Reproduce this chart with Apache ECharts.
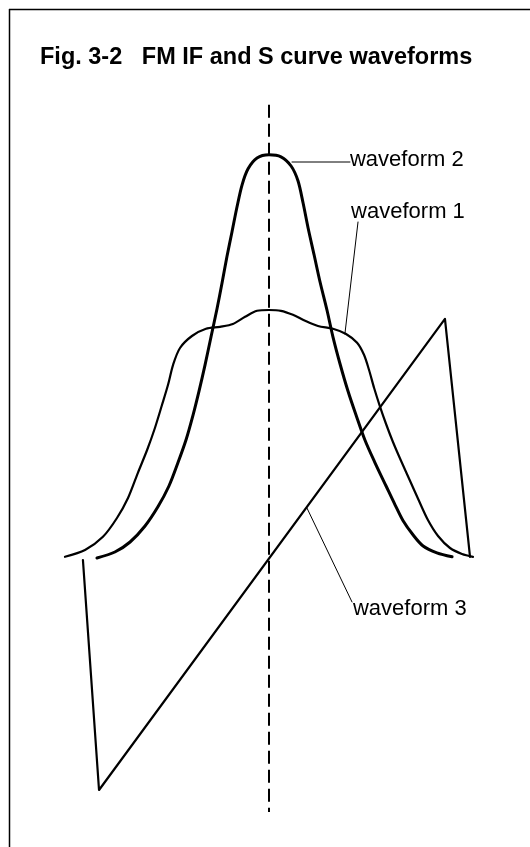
<!DOCTYPE html>
<html>
<head>
<meta charset="utf-8">
<script src="https://cdn.jsdelivr.net/npm/echarts@6/dist/echarts.min.js"></script>
<style>
  html, body { margin: 0; padding: 0; background: #fff; }
  #chart { width: 530px; height: 847px; }
</style>
</head>
<body>
<div id="chart"></div>
<script>
// curves in chart units: x = frequency offset, y = amplitude
const waveform1 = [
  [-8.87, 0.03], [-8.0, 0.2], [-7.22, 0.53], [-6.61, 1.0], [-6.13, 1.5],
  [-5.7, 2.13], [-5.3, 2.7], [-4.96, 3.25], [-4.65, 3.83], [-4.39, 4.33],
  [-4.17, 4.83], [-3.87, 5.25], [-3.35, 5.55], [-2.74, 5.73], [-2.13, 5.78],
  [-1.57, 5.85], [-1.04, 6.03], [-0.52, 6.18], [0, 6.2], [0.52, 6.18],
  [1.04, 6.08], [1.57, 5.93], [2.13, 5.8], [2.78, 5.73], [3.35, 5.6],
  [3.83, 5.38], [4.13, 5.08], [4.35, 4.7], [4.57, 4.25], [4.83, 3.78],
  [5.09, 3.35], [5.39, 2.9], [5.74, 2.43], [6.13, 1.93], [6.52, 1.43],
  [6.91, 0.95], [7.35, 0.55], [7.87, 0.25], [8.39, 0.1], [8.87, 0.03]
];
const waveform2 = [
  [-7.48, 0], [-6.7, 0.15], [-6.04, 0.4], [-5.39, 0.8], [-4.83, 1.28],
  [-4.35, 1.8], [-3.96, 2.38], [-3.61, 2.95], [-3.3, 3.58], [-3.04, 4.18],
  [-2.78, 4.83], [-2.52, 5.53], [-2.26, 6.23], [-2.04, 6.88], [-1.83, 7.53],
  [-1.61, 8.15], [-1.39, 8.78], [-1.17, 9.33], [-0.91, 9.73], [-0.52, 10.0],
  [0, 10.08], [0.52, 10.03], [0.96, 9.8], [1.26, 9.43], [1.48, 8.88],
  [1.7, 8.25], [1.96, 7.58], [2.22, 6.9], [2.52, 6.2], [2.78, 5.53],
  [3.09, 4.85], [3.43, 4.18], [3.78, 3.58], [4.17, 2.95], [4.61, 2.38],
  [5.09, 1.8], [5.48, 1.33], [5.83, 0.93], [6.26, 0.58], [6.7, 0.3],
  [7.3, 0.13], [7.96, 0.03]
];
const waveform3 = [[-8.09, -0.05], [-7.39, -5.8], [7.65, 5.98], [8.74, 0.03]];
const centerLine = [[0, 11.33], [0, -6.35]];

// leader lines and label anchors
const leader1 = [[3.3, 5.6], [3.87, 8.4]];
const leader2 = [[1.0, 9.9], [3.52, 9.9]];
const leader3 = [[1.65, 1.25], [3.61, -1.1]];
const labelNames = ['waveform 2', 'waveform 1', 'waveform 3'];
const labelPos = [[3.52, 9.95], [3.57, 8.65], [3.65, -1.28]];

const ink = '#000';
const chart = echarts.init(document.getElementById('chart'));

function curve(data, width, smooth) {
  return {
    type: 'line', data: data, smooth: smooth,
    symbol: 'none', silent: true,
    lineStyle: { color: ink, width: width, cap: 'round', join: 'round' }
  };
}

chart.setOption({
  animation: false,
  backgroundColor: '#fff',
  title: {
    text: 'Fig. 3-2   FM IF and S curve waveforms',
    left: 35, top: 41,
    textStyle: { fontFamily: 'Liberation Sans', fontWeight: 'bold', fontSize: 23.5, color: ink }
  },
  grid: { left: 39, right: 31, top: 98, bottom: 9 },
  xAxis: { type: 'value', min: -10, max: 10, show: false },
  yAxis: { type: 'value', min: -7, max: 11.5, show: false },
  graphic: [
    { type: 'line', shape: { x1: 9, y1: 9.5, x2: 530, y2: 9.5 }, style: { stroke: ink, lineWidth: 1.5 } },
    { type: 'line', shape: { x1: 9.5, y1: 9, x2: 9.5, y2: 847 }, style: { stroke: ink, lineWidth: 1.5 } }
  ],
  series: [
    {
      type: 'line', data: centerLine, symbol: 'none', silent: true,
      lineStyle: { color: ink, width: 2, type: [13, 6] }
    },
    curve(waveform1, 2.2, 0.3),
    curve(waveform2, 3, 0.3),
    curve(waveform3, 2.2, false),
    curve(leader1, 1, false),
    curve(leader2, 1, false),
    curve(leader3, 1, false),
    {
      type: 'scatter', symbolSize: 0, silent: true,
      itemStyle: { opacity: 1 },
      data: labelNames.map((n, i) => ({ name: n, value: labelPos[i] })),
      label: {
        show: true, position: 'right', distance: 0, formatter: '{b}',
        fontFamily: 'Liberation Sans', fontSize: 22, color: ink, opacity: 1
      }
    }
  ]
});
</script>
</body>
</html>
